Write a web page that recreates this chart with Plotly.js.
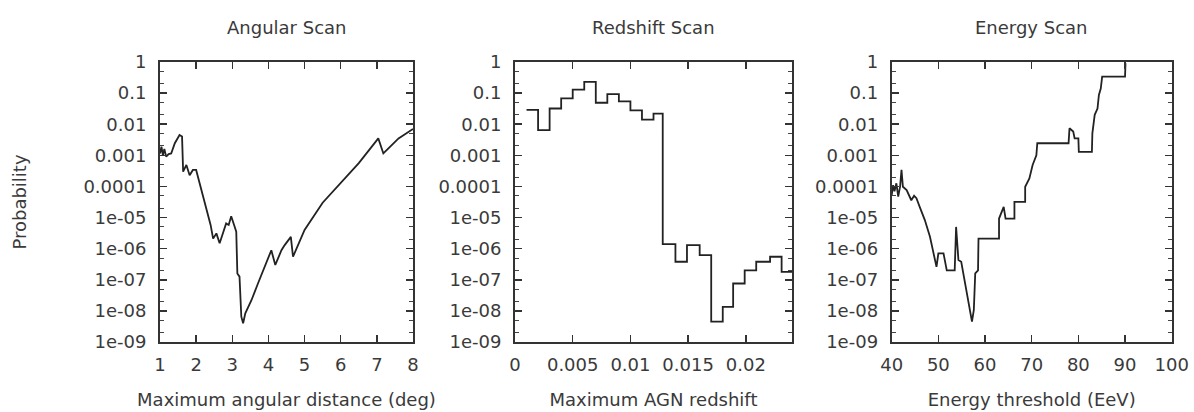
<!DOCTYPE html>
<html>
<head>
<meta charset="utf-8">
<script src="https://cdn.plot.ly/plotly-3.0.1.min.js"></script>
<style>html,body{margin:0;padding:0;background:#fff;}#chart{width:1194px;height:412px;}</style>
</head>
<body>
<div id="chart"></div>
<script>
// ---------- data ----------
const panelTitles = ['Angular Scan', 'Redshift Scan', 'Energy Scan'];
const xTitles = ['Maximum angular distance (deg)', 'Maximum AGN redshift', 'Energy threshold (EeV)'];
const yTitle = 'Probability';

const yTickVals = [1, 0.1, 0.01, 0.001, 0.0001, 1e-5, 1e-6, 1e-7, 1e-8, 1e-9];
const yTickText = ['1', '0.1', '0.01', '0.001', '0.0001', '1e-05', '1e-06', '1e-07', '1e-08', '1e-09'];

const angTickVals = [1, 2, 3, 4, 5, 6, 7, 8];
const angTickText = ['1', '2', '3', '4', '5', '6', '7', '8'];
const zTickVals = [0, 0.005, 0.01, 0.015, 0.02];
const zTickText = ['0', '0.005', '0.01', '0.015', '0.02'];
const eTickVals = [40, 50, 60, 70, 80, 90, 100];
const eTickText = ['40', '50', '60', '70', '80', '90', '100'];

// Angular scan
const angDeg = [1.00, 1.04, 1.08, 1.12, 1.17, 1.24, 1.31, 1.41, 1.54, 1.61, 1.64, 1.73, 1.82, 1.91, 2.00,
  2.10, 2.19, 2.28, 2.40, 2.47, 2.56, 2.65, 2.74, 2.83, 2.90, 2.97, 3.05, 3.11, 3.14, 3.20, 3.25, 3.30,
  3.36, 3.53, 3.71, 3.90, 4.08, 4.19, 4.36, 4.45, 4.62, 4.68, 5.00, 5.50, 6.00, 6.50, 7.04, 7.18, 7.60, 8.00];
const angProb = [1.15e-3, 1.9e-3, 1.0e-3, 1.6e-3, 9.1e-4, 1.1e-3, 1.15e-3, 2.45e-3, 4.5e-3, 4.0e-3, 3.0e-4, 4.9e-4, 2.3e-4, 3.4e-4, 3.4e-4,
  1.26e-4, 4.7e-5, 2.0e-5, 5.8e-6, 2.1e-6, 3.1e-6, 1.5e-6, 3.1e-6, 6.5e-6, 5.8e-6, 1.1e-5, 5.8e-6, 3.5e-6, 1.6e-7, 1.26e-7, 6.5e-9, 4.0e-9,
  8.3e-9, 2.2e-8, 7.6e-8, 2.6e-7, 8.9e-7, 3.0e-7, 8.9e-7, 1.3e-6, 2.4e-6, 5.5e-7, 4.0e-6, 3.0e-5, 1.3e-4, 5.6e-4, 3.5e-3, 1.15e-3, 3.5e-3, 7.0e-3];

// Redshift scan (bin edges and bin values)
const zEdges = [0.001, 0.002, 0.003, 0.004, 0.005, 0.006, 0.007, 0.008, 0.009, 0.010, 0.011, 0.012, 0.0128,
  0.0139, 0.0149, 0.016, 0.017, 0.018, 0.0189, 0.0199, 0.0209, 0.0221, 0.0231, 0.024];
const zProb = [0.029, 0.0065, 0.032, 0.068, 0.13, 0.23, 0.049, 0.093, 0.054, 0.028, 0.014, 0.022,
  1.4e-6, 3.8e-7, 1.3e-6, 6.2e-7, 4.5e-9, 1.35e-8, 7.6e-8, 2.0e-7, 3.8e-7, 5.5e-7, 1.8e-7];

// Energy scan
const eEeV = [40.0, 40.3, 40.6, 41.0, 41.4, 41.8, 42.1, 42.4, 43.2, 44.2, 44.8, 45.3, 46.0, 47.1, 48.2, 48.9, 49.6,
  50.0, 51.1, 51.8, 53.5, 53.8, 54.3, 54.9, 55.8, 56.5, 57.2, 57.6, 57.9, 58.5, 58.6, 63.0, 63.0, 64.0, 64.4,
  66.3, 66.3, 68.6, 68.6, 69.5, 70.2, 71.0, 71.2, 77.9, 78.1, 78.9, 79.2, 80.0, 80.1, 82.9, 83.0, 83.5, 84.1,
  84.4, 84.8, 85.1, 90.0, 90.1];
const eProb = [5.2e-5, 1.1e-4, 7.0e-5, 1.26e-4, 4.7e-5, 1.0e-4, 3.4e-4, 9.8e-5, 7.6e-5, 3.6e-5, 5.0e-5, 4.2e-5, 2.2e-5, 8.3e-6, 2.4e-6, 7.1e-7, 2.6e-7,
  7.1e-7, 7.1e-7, 2.0e-7, 2.0e-7, 5.0e-6, 4.3e-7, 3.8e-7, 5.9e-8, 1.7e-8, 4.5e-9, 1.07e-8, 1.6e-7, 2.0e-7, 2.1e-6, 2.1e-6, 9.3e-6, 2.2e-5, 9.3e-6,
  9.3e-6, 3.2e-5, 3.2e-5, 9.8e-5, 1.8e-4, 4.9e-4, 1.0e-3, 2.45e-3, 2.45e-3, 7.4e-3, 5.8e-3, 3.5e-3, 3.5e-3, 1.3e-3, 1.3e-3, 5.1e-3, 0.02, 0.032,
  0.087, 0.14, 0.34, 0.34, 0.91];

// ---------- drawing ----------
const W = 1194, H = 412;
const FONT = 'DejaVu Sans';
const FS = 18;
const TXT = '#3a3a3a';
const LINE = '#222';

const yDom = [1 - 342 / H, 1 - 62 / H];
const xDoms = [[160 / W, 413 / W], [515 / W, 792 / W], [891.7 / W, 1171.7 / W]];

const lineStyle = {color: LINE, width: 1.8};
const traces = [
  {x: angDeg, y: angProb, mode: 'lines', line: lineStyle, xaxis: 'x', yaxis: 'y'},
  {x: zEdges, y: zProb.concat([zProb[zProb.length - 1]]), mode: 'lines', line: Object.assign({shape: 'hv'}, lineStyle), xaxis: 'x2', yaxis: 'y2'},
  {x: eEeV, y: eProb, mode: 'lines', line: lineStyle, xaxis: 'x3', yaxis: 'y3'}
];

function xAxis(i, range, vals, text) {
  return {
    domain: xDoms[i], anchor: i === 0 ? 'y' : 'y' + (i + 1), range: range,
    tickmode: 'array', tickvals: vals, ticktext: text,
    ticks: 'inside', ticklen: 7, tickwidth: 1.5, tickcolor: '#333',
    showline: true, linewidth: 2, linecolor: '#333', mirror: 'ticks',
    showgrid: false, zeroline: false, fixedrange: true,
    tickfont: {family: FONT, size: FS, color: TXT}, ticklabelstandoff: 5,
    title: {text: xTitles[i], font: {family: FONT, size: FS, color: TXT}, standoff: 20}
  };
}
function yAxis(i) {
  const ax = {
    domain: yDom, anchor: i === 0 ? 'x' : 'x' + (i + 1), type: 'log', range: [-9, 0],
    tickmode: 'array', tickvals: yTickVals, ticktext: yTickText,
    ticks: 'inside', ticklen: 7, tickwidth: 1.5, tickcolor: '#333',
    showline: true, linewidth: 2, linecolor: '#333', mirror: 'ticks',
    showgrid: false, zeroline: false, fixedrange: true,
    minor: {ticks: 'inside', ticklen: 4, tickwidth: 1, tickcolor: '#444', dtick: 'D2', showgrid: false},
    tickfont: {family: FONT, size: FS, color: TXT}, ticklabelstandoff: 8
  };
  if (i === 0) ax.title = {text: yTitle, font: {family: FONT, size: FS, color: TXT}, standoff: 52};
  return ax;
}

const annotations = panelTitles.map((t, i) => ({
  text: t, xref: 'paper', yref: 'paper',
  x: (xDoms[i][0] + xDoms[i][1]) / 2, y: 1 - 28 / H,
  xanchor: 'center', yanchor: 'middle', showarrow: false,
  font: {family: FONT, size: FS, color: TXT}
}));

const layout = {
  width: W, height: H,
  margin: {l: 0, r: 0, t: 0, b: 0},
  paper_bgcolor: '#fff', plot_bgcolor: '#fff',
  showlegend: false,
  xaxis: xAxis(0, [1, 8], angTickVals, angTickText),
  xaxis2: xAxis(1, [0, 0.024], zTickVals, zTickText),
  xaxis3: xAxis(2, [40, 100], eTickVals, eTickText),
  yaxis: yAxis(0), yaxis2: yAxis(1), yaxis3: yAxis(2),
  annotations: annotations
};

Plotly.newPlot('chart', traces, layout, {displayModeBar: false, staticPlot: true});
</script>
</body>
</html>
